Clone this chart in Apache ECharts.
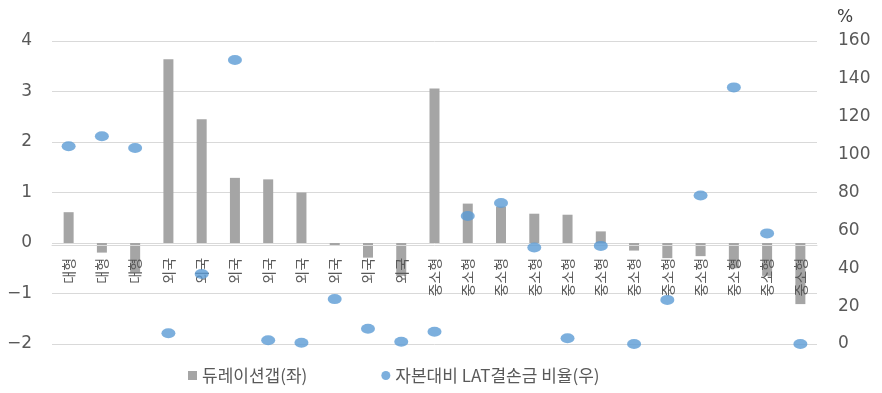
<!DOCTYPE html>
<html>
<head>
<meta charset="utf-8">
<script src="https://cdn.jsdelivr.net/npm/echarts@6/dist/echarts.min.js"></script>
<style>
html,body{margin:0;padding:0;background:#fff;}
#chart{width:882px;height:393px;}
</style>
</head>
<body>
<div id="chart"></div>
<script>
const categories = ['대형','대형','대형','외국','외국','외국','외국','외국','외국','외국','외국',
  '중소형','중소형','중소형','중소형','중소형','중소형','중소형','중소형','중소형','중소형','중소형','중소형'];
const durationGap = [0.61,-0.19,-0.58,3.64,2.45,1.29,1.26,1.0,-0.05,-0.29,-0.65,
  3.06,0.78,0.72,0.58,0.56,0.23,-0.15,-0.3,-0.26,-0.5,-0.65,-1.21];
const latRatio = [104.4,109.7,103.5,5.7,37,150,2,0.7,23.7,8.1,1.2,
  6.5,67.6,74.5,51,3,51.8,0,23.3,78.4,135.5,58.4,0];
const leftTicks = {min:-2, max:4, interval:1};
const rightTicks = {min:0, max:160, interval:20};
const seriesNames = ['듀레이션갭(좌)','자본대비 LAT결손금 비율(우)'];

const FONT = '"DejaVu Sans","Noto Sans CJK KR",sans-serif';
const chart = echarts.init(document.getElementById('chart'));
const option = {
  animation:false,
  grid:{left:52, right:65, top:41, bottom:49},
  legend:{
    left:183, bottom:4, itemGap:74, itemWidth:9, itemHeight:9,
    textStyle:{fontSize:17, color:'#595959', fontFamily:'"Noto Sans CJK KR",sans-serif'},
    data:[{name:seriesNames[0], icon:'rect'},{name:seriesNames[1], icon:'circle'}]
  },
  xAxis:{
    type:'category', data:categories, z:10, offset:0,
    axisLine:{onZero:false, lineStyle:{color:'#d9d9d9', width:1}},
    axisTick:{show:false},
    axisLabel:{rotate:90, interval:0, margin:13, fontSize:14, color:'#595959',
      fontFamily:'"Noto Sans CJK KR",sans-serif'}
  },
  yAxis:[
    {type:'value', min:leftTicks.min, max:leftTicks.max, interval:leftTicks.interval,
      axisLine:{show:false}, axisTick:{show:false},
      splitLine:{lineStyle:{color:'#d9d9d9', width:1}},
      axisLabel:{fontSize:17, color:'#595959', margin:20, fontFamily:FONT,
        formatter: v => String(v).replace('-', '\u2212')}},
    {type:'value', min:rightTicks.min, max:rightTicks.max, interval:rightTicks.interval,
      position:'right',
      axisLine:{show:false}, axisTick:{show:false}, splitLine:{show:false},
      name:'%', nameLocation:'end', nameGap:15,
      nameTextStyle:{fontSize:17, color:'#404040', align:'left', padding:[0,0,0,20], fontFamily:FONT},
      axisLabel:{fontSize:17, color:'#595959', margin:21, fontFamily:FONT}}
  ],
  series:[
    {name:seriesNames[0], type:'bar', data:durationGap, yAxisIndex:0, barWidth:10,
      itemStyle:{color:'#a5a5a5'}, z:2},
    {name:seriesNames[1], type:'scatter', data:latRatio, yAxisIndex:1, symbol:'circle',
      symbolSize:[14,10], itemStyle:{color:'#5b9bd5'}, z:12}
  ]
};
chart.setOption(option);
// move the category axis (line and labels) up to the zero line of the left axis
const zeroY = chart.convertToPixel({yAxisIndex:0}, 0);
const bottomY = chart.convertToPixel({yAxisIndex:0}, leftTicks.min);
chart.setOption({xAxis:{offset: zeroY - bottomY}});
</script>
</body>
</html>
